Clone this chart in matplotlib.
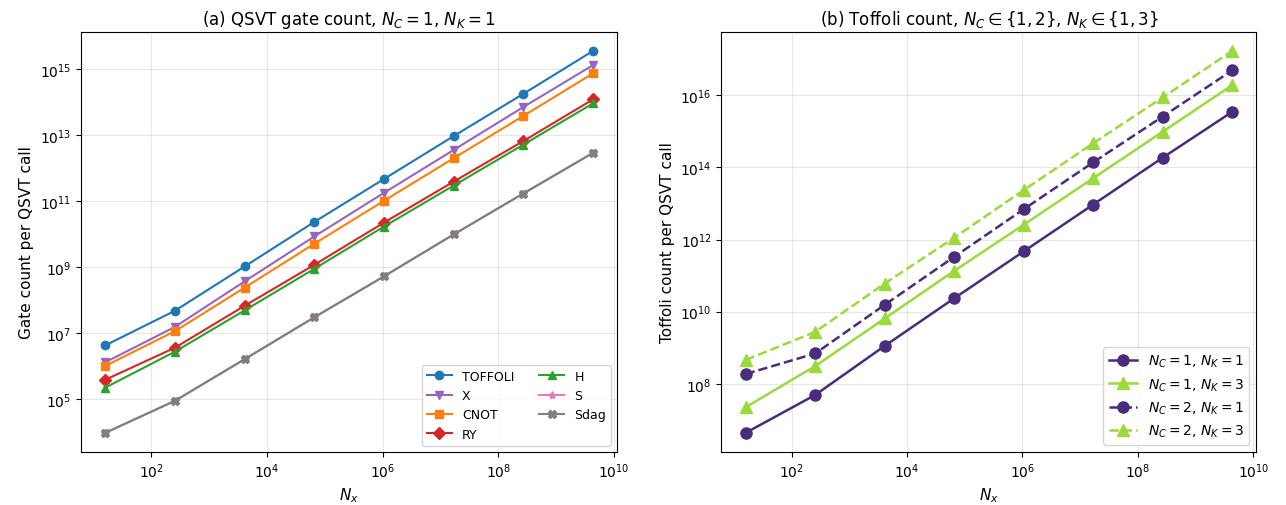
import matplotlib
matplotlib.use("Agg")
import matplotlib.pyplot as plt
import numpy as np

# --- dados ---
nx = [2**4, 2**8, 2**12, 2**16, 2**20, 2**24, 2**28, 2**32]

# painel (a): log10 das contagens, N_C = 1, N_K = 1
log_toffoli = [6.64, 7.69, 9.03, 10.38, 11.68, 12.98, 14.26, 15.56]
log_x = [6.13, 7.20, 8.58, 9.94, 11.26, 12.56, 13.86, 15.13]
log_cnot = [6.02, 7.07, 8.39, 9.72, 11.02, 12.31, 13.59, 14.88]
log_ry = [5.60, 6.57, 7.84, 9.08, 10.36, 11.60, 12.83, 14.09]
log_h = [5.36, 6.45, 7.70, 8.96, 10.24, 11.48, 12.72, 13.97]
log_s = [3.99, 4.96, 6.22, 7.49, 8.73, 10.00, 11.24, 12.47]
log_sdag = [3.99, 4.96, 6.22, 7.49, 8.73, 10.00, 11.24, 12.47]

# painel (b): log10 da contagem de Toffoli
log_c1k1 = [6.64, 7.69, 9.05, 10.37, 11.67, 12.97, 14.27, 15.54]
log_c1k3 = [7.35, 8.49, 9.81, 11.13, 12.41, 13.70, 14.99, 16.28]
log_c2k1 = [8.27, 8.84, 10.19, 11.52, 12.84, 14.14, 15.41, 16.69]
log_c2k3 = [8.66, 9.44, 10.78, 12.05, 13.37, 14.67, 15.94, 17.23]

ROXO = "#472d7b"
VERDE = "#9bd93c"

fig = plt.figure(figsize=(12.86, 5.06), dpi=100)
ax1 = fig.add_axes([0.063, 0.105, 0.417, 0.830])
ax2 = fig.add_axes([0.561, 0.105, 0.416, 0.830])

# --- painel (a) ---
series_a = [
    ("TOFFOLI", log_toffoli, "tab:blue", "o"),
    ("X", log_x, "tab:purple", "v"),
    ("CNOT", log_cnot, "tab:orange", "s"),
    ("RY", log_ry, "tab:red", "D"),
    ("H", log_h, "tab:green", "^"),
    ("S", log_s, "tab:pink", "*"),
    ("Sdag", log_sdag, "tab:gray", "X"),
]
for nome, vals, cor, mk in series_a:
    ax1.plot(nx, 10 ** np.array(vals), color=cor, marker=mk, ms=6, lw=1.5, label=nome)

ax1.set_xscale("log")
ax1.set_yscale("log")
ax1.set_xlabel(r"$N_x$", fontsize=11)
ax1.set_ylabel("Gate count per QSVT call", fontsize=11)
ax1.set_title(r"(a) QSVT gate count, $N_C = 1$, $N_K = 1$", fontsize=12)
ax1.grid(True, alpha=0.3)
ax1.legend(ncol=2, loc="lower right", fontsize=9)

# --- painel (b) ---
series_b = [
    (r"$N_C = 1$, $N_K = 1$", log_c1k1, ROXO, "o", "-"),
    (r"$N_C = 1$, $N_K = 3$", log_c1k3, VERDE, "^", "-"),
    (r"$N_C = 2$, $N_K = 1$", log_c2k1, ROXO, "o", "--"),
    (r"$N_C = 2$, $N_K = 3$", log_c2k3, VERDE, "^", "--"),
]
for nome, vals, cor, mk, ls in series_b:
    ax2.plot(nx, 10 ** np.array(vals), color=cor, marker=mk, ms=8, lw=1.8, ls=ls, label=nome)

ax2.set_xscale("log")
ax2.set_yscale("log")
ax2.set_xlabel(r"$N_x$", fontsize=11)
ax2.set_ylabel("Toffoli count per QSVT call", fontsize=11)
ax2.set_title(r"(b) Toffoli count, $N_C \in \{1, 2\}$, $N_K \in \{1, 3\}$", fontsize=12)
ax2.grid(True, alpha=0.3)
ax2.legend(loc="lower right", fontsize=10)

fig.savefig("out.png", dpi=100)
